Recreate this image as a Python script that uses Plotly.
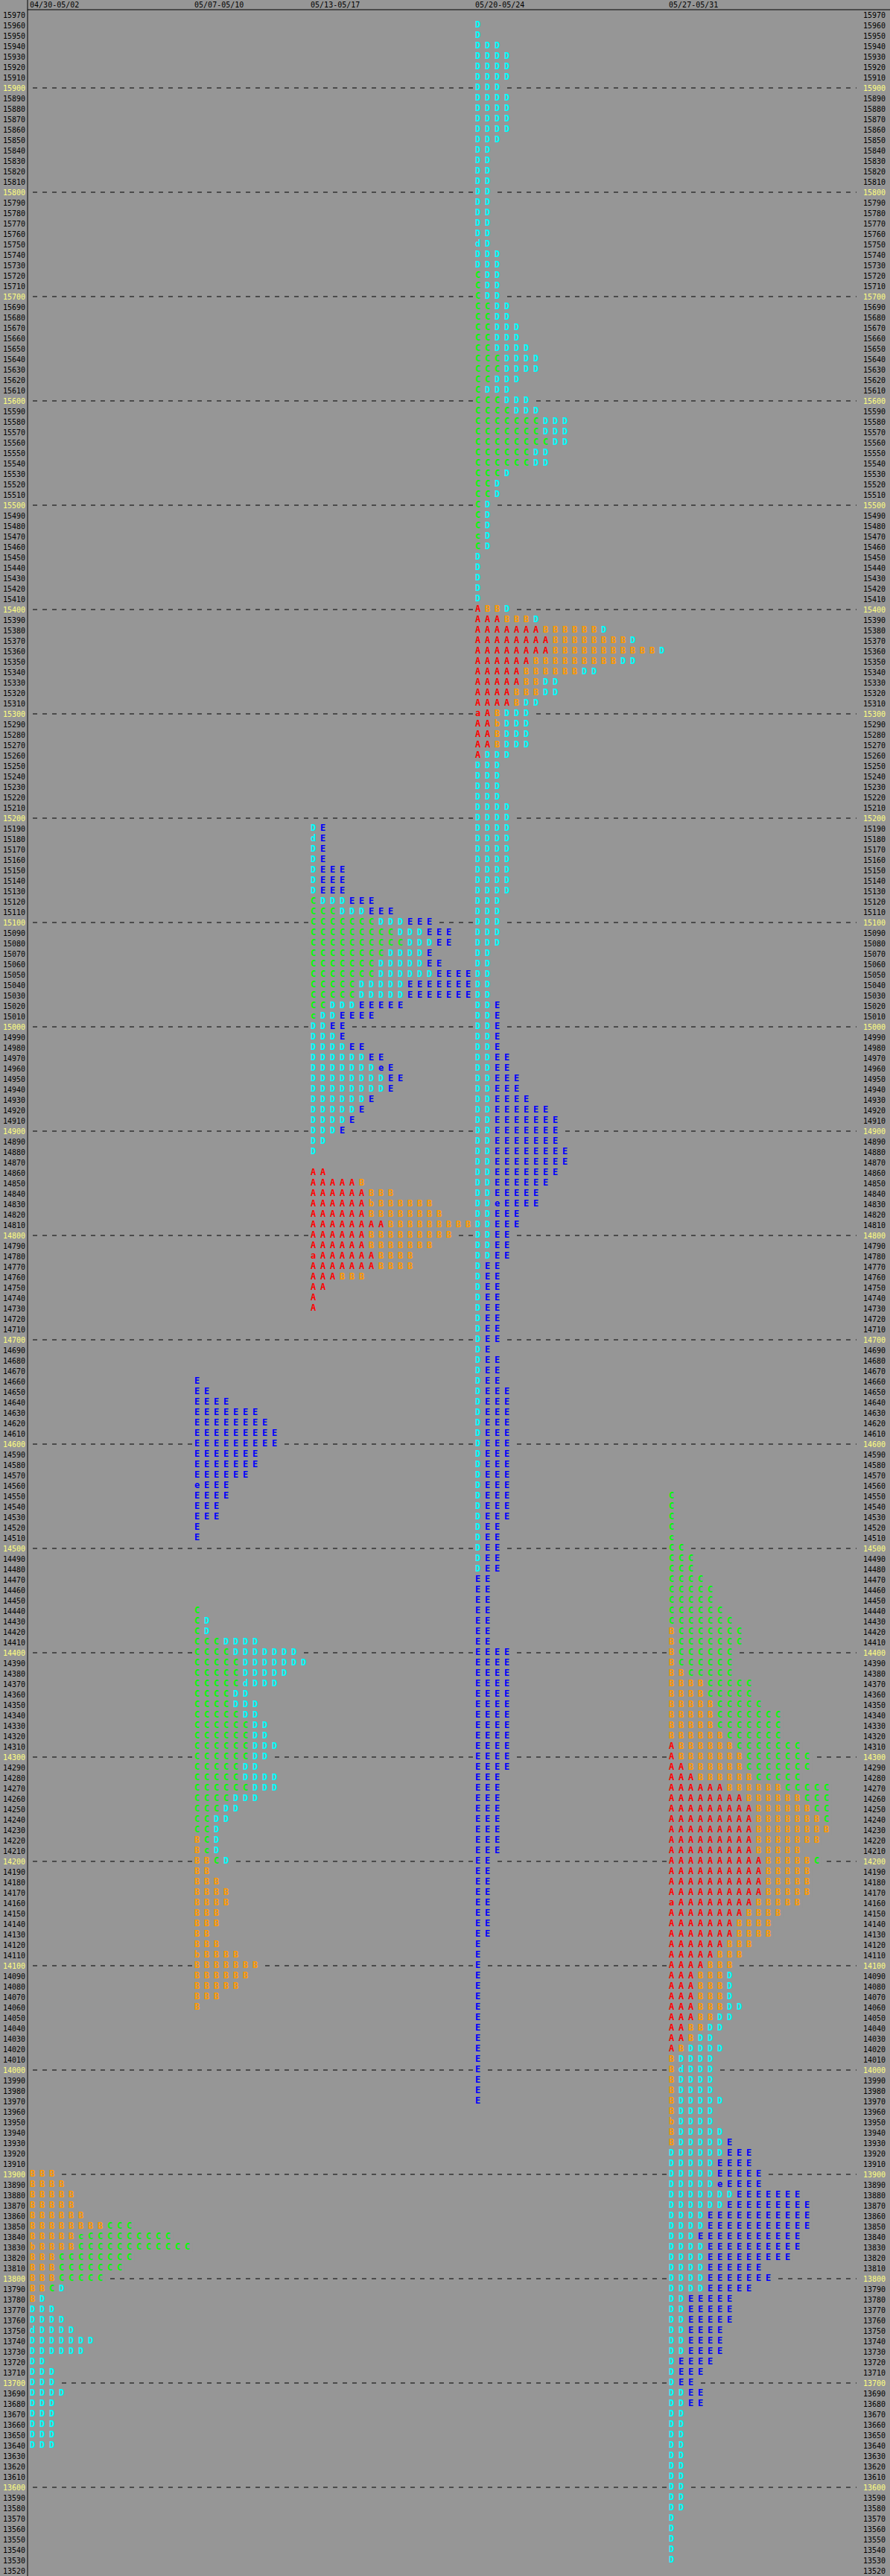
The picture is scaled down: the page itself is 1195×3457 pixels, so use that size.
import plotly.graph_objects as go

# ---------------- data ----------------
WEEKS = ["04/30-05/02", "05/07-05/10", "05/13-05/17", "05/20-05/24", "05/27-05/31"]
TOP_PRICES = [13900, 14660, 15190, 15960, 14550]   # price of the first row of each profile
PRICE_MIN, PRICE_MAX, PRICE_STEP = 13520, 15970, 10

P1_ROWS = [
    "BBB", "BBBB", "BBBBB", "BBBBB", "BBBBBB", "BBBBBBBBCCC", "BBBBBcCCCCCCCCC",
    "bBBBBCCCCCCCCCCCC", "BBBCCCCCCCC", "BBBCCCCCCC", "BBBCCCCC", "BBCD", "BD",
    "DDD", "DDDD", "dDDDD", "DDDDDDD", "DDDDDD", "DD", "DDD", "DDD", "DDDD",
    "DDD", "DDD", "DDD", "DDD", "DDD",
]

P2_ROWS = [
    "E", "EE", "EEEE", "EEEEEEE", "EEEEEEEE", "EEEEEEEEE", "EEEEEEEEE", "EEEEEEE",
    "EEEEEEE", "EEEEEE", "eEEE", "EEEE", "EEE", "EEE", "E", "E",
    "", "", "", "", "", "",
    "C", "CD", "CD", "CCCDDDD", "CCCCDDDDDDD", "CCCCCDDDDDDD", "CCCCCDDDDD",
    "CCCCCdDDD", "CCCCDD", "CCCCDDD", "CCCCCDD", "CCCCCCDD", "CCCCCCDD",
    "CCCCCCDDD", "CCCCCCDD", "CCCCCDD", "CCCCCDDDD", "CCCCCCDDD", "CCCCDDD",
    "CCCDD", "CCDD", "CCD", "BCD", "BcD", "BBCD", "BB", "BBB", "BBBB", "BBBB",
    "BBB", "BBB", "BB", "BBB", "bBBBB", "BBBBBBB", "BBBBBB", "BBBBB", "BBB", "B",
]

P3_ROWS = [
    "DE", "dE", "DE", "DE", "DEEE", "DEEE", "DEEE", "CDDDEEE", "CCCDDDEEE",
    "CCCCCCCDDDEEE", "CCCCCCCCCDDDEEE", "CCCCCCCCCCDDDEE", "CCCCCCCCDDDDE",
    "CCCCCCCDDDDDEE", "CCCCCCCDDDDDDEEEE", "CCCCCDDDDDEEEEEEE", "CCCCCDDDDDEEEEEEE",
    "CCDDDEEEEE", "cDDEEEE", "DDEE", "DDDE", "DDDDEE", "DDDDDDEE", "DDDDDDDeE",
    "DDDDDDDDEE", "DDDDDDDDE", "DDDDDDE", "DDDDDE", "DDDDE", "DDDE", "DD", "D", "",
    "AA", "AAAAAB", "AAAAAABBB", "AAAAAAbBBBBBB", "AAAAAABBBBBBBB",
    "AAAAAAAABBBBBBBBB", "AAAAAABBBBBBBBB", "AAAAAABBBBBBB", "aAAAAAABBBB",
    "AAAAAAABBBB", "AAABBB", "AA", "A", "A",
]

P4_ROWS = (
    ["D", "D", "DDD", "DDDD", "DDDD", "DDDD", "DDD", "DDDD", "DDDD", "DDDD", "DDDD",
     "DDD", "DD", "DD", "DD", "DD", "DD", "DD", "DD", "DD", "DD", "dD", "DDD", "DDD",
     "CDD", "CDD", "CDD", "CCDD", "CCDD", "CCDDD", "CCDDD", "CCDDDD", "CCCDDDD",
     "CCCDDDD", "CCDDD", "CDDD", "CCCDDD", "CCCCDDD", "CCCCCCCDDD", "CCCCCCCDDD",
     "CCCCCCCCDD", "CCCCCCDD", "CCCCCCDD", "CCCD", "CCD", "CCD", "CD", "CD", "CD",
     "cD", "CD", "D", "D", "D", "D", "D",
     "ABBD", "AAABBBD", "AAAAAAABBBBBBD", "AAAAAAAABBBBBBBBD",
     "AAAAAAAABBBBBBBBBBBD", "AAAAAABBBBBBBBBDD", "AAAAABBBBBBDD", "AAAAABBDD",
     "AAAABBBDD", "AAAABDD", "aABDDD", "AAbDDD", "AABDDD", "AABDDD", "ADDD",
     "DDD", "DDD", "DDD", "DDD", "DDDD", "DDDD", "DDDD", "DDDD", "DDDD", "DDDD",
     "DDDD", "DDDD", "DDDD", "DDD", "DDD", "DDD", "DDD", "DDD", "DD", "DD", "DD",
     "DD", "DD", "DDE", "DDE", "DDE", "DDE", "DDE", "DDEE", "DDEE", "DDEEE", "DDEEE",
     "DDEEEE", "DDEEEEEE", "DDEEEEEEE", "DDEEEEEEE", "DDEEEEEEE", "DDEEEEEEEE",
     "DDEEEEEEEE", "DDEEEEEEE", "DDEEEEEE", "DDEEEEE", "DDeEEEE", "DDEEE", "DDEEE",
     "DDEE", "DDEE", "DDEE", "DEE", "DEE", "DEE", "DEE", "DEE", "DEE", "DEE", "DEE",
     "DE", "DEE", "DEE", "DEE"]
    + ["DEEE"] * 13
    + ["DEE"] * 5
    + ["EE"] * 7
    + ["EEEE"] * 12
    + ["EEE"] * 8
    + ["EE"] * 8
    + ["E"] * 16
)

P5_ROWS = (
    ["C", "C", "C", "C", "c", "CC", "CCC", "CCC", "CCCC", "CCCCC", "CCCCC", "CCCCCC",
     "CCCCCCC", "BCCCCCCC", "BCCCCCCC", "BCCCCCC", "BCCCCCC", "BBCCCCC", "BBBBCCCCC",
     "BBBBCCCCC", "BBBBBCCCCC", "BBBBBCCCCCCC", "BBBBBCCCCCCC", "BBBBBBCCCCCC",
     "ABBBBBBCCCCCCC", "ABBBBBBBCCCCCCC", "AABBBBBBCCCCCCC", "AAABBBBBBCCCCC",
     "AAAAAABBBBBBCCCCC", "AAAAAAAABBBBBBCCC", "AAAAAAAAABBBBBBCC",
     "AAAAAAAAABBBBBBBC", "AAAAAAAAABBBBBBBB", "AAAAAAAAABBBBBBB", "AAAAAAAAABBBBB",
     "AAAAAAAAAABBBBBC", "AAAAAAAAAABBBBB", "AAAAAAAAAABBBBB", "AAAAAAAAAABBBBB",
     "aAAAAAAAABBBBB", "AAAAAAAABBBB", "AAAAAAABBBB", "AAAAAAABBBB", "AAAAAABBB",
     "AAAAABBB", "AAAABBB", "AAABBBD", "AAABBBD", "AAABBBD", "AAABBBDD", "AAABBDD",
     "AABBDD", "AABDD", "ABDDDD", "BDDDD", "BdDDD", "BDDDD", "BDDDD", "BDDDDD",
     "BDDDD", "bDDDD", "BDDDDD", "BDDDDDE", "DDDDDDEEE", "DDDDDEEEE", "DDDDDEEEEE",
     "DDDDDeEEEE", "DDDDDDDEEEEEEE", "DDDDDDEEEEEEEEE", "DDDDEEEEEEEEEEE",
     "DDDDEEEEEEEEEEE", "DDDEEEEEEEEEEE", "DDDDEEEEEEEEEE", "DDDDEEEEEEEEE",
     "DDDDEEEEEE", "DDDDEEEEEEE", "DDDDEEEEE", "DDEEEEE", "DDEEEEE", "DDEEEEE",
     "DDEEEE", "DDEEEE", "DDEEEE", "DEEEE", "DEEE", "DEE", "DDEE", "DDEE"]
    + ["DD"] * 10
    + ["D"] * 5
)

PROFILES = [P1_ROWS, P2_ROWS, P3_ROWS, P4_ROWS, P5_ROWS]

# ---------------- style / layout constants ----------------
W, H = 1195, 3457
BG = "#969696"
LETTER_COLORS = {"A": "#ff0000", "B": "#ff9a00", "C": "#00ff00", "D": "#00ffff", "E": "#0000ff"}
START_COLS = [0, 17, 29, 46, 66]          # column where each weekly profile starts
COL_PX = 13
PLOT_L, PLOT_R, PLOT_T = 37, 1155, 13
X_MIN = -(43.7 - PLOT_L) / COL_PX
X_MAX = X_MIN + (PLOT_R - PLOT_L) / COL_PX
Y_LO = PRICE_MIN - PRICE_STEP / 2
Y_HI = PRICE_MAX + PRICE_STEP / 2

# ---------------- build letter traces ----------------
pts = {k: ([], [], []) for k in LETTER_COLORS}
for prof, top, c0 in zip(PROFILES, TOP_PRICES, START_COLS):
    for r, row in enumerate(prof):
        price = top - r * PRICE_STEP
        for i, ch in enumerate(row):
            xs, ys, ts = pts[ch.upper()]
            xs.append(c0 + i)
            ys.append(price)
            ts.append(ch)

fig = go.Figure()
for k, (xs, ys, ts) in pts.items():
    fig.add_trace(go.Scatter(
        x=xs, y=ys, text=ts, mode="markers+text",
        marker=dict(symbol="square", size=13, color=BG, line=dict(width=0)),
        textposition="middle center",
        textfont=dict(family="DejaVu Sans Mono", size=12, color=LETTER_COLORS[k], weight="bold"),
        hoverinfo="skip", showlegend=False, cliponaxis=False,
    ))

# invisible trace that activates the right-hand price axis
fig.add_trace(go.Scatter(x=[0], y=[PRICE_MIN], yaxis="y2", mode="markers",
                         marker=dict(opacity=0), hoverinfo="skip", showlegend=False))

tickvals = list(range(PRICE_MIN, PRICE_MAX + 1, PRICE_STEP))
ticktext = [(f'<span style="color:#ffff80">{v}</span>' if v % 100 == 0 else str(v)) for v in tickvals]
tickfont = dict(family="DejaVu Sans Mono", size=10, color="#000000")

# dashed lines at every 100
shapes = []
for v in tickvals:
    if v % 100 == 0:
        shapes.append(dict(type="line", xref="paper", yref="y", x0=0, x1=(1150 - PLOT_L) / (PLOT_R - PLOT_L),
                           y0=v, y1=v, layer="below",
                           line=dict(color="#000000", width=1, dash="0px,7px,6px,0px")))
# top line across the full width and left line reaching into the header
shapes.append(dict(type="line", xref="paper", yref="paper", x0=0, x1=(W - PLOT_L) / (PLOT_R - PLOT_L),
                   y0=1, y1=1, line=dict(color="#000000", width=1)))
shapes.append(dict(type="line", xref="paper", yref="paper", x0=0, x1=0,
                   y0=0, y1=H / (H - PLOT_T), line=dict(color="#000000", width=1)))

fig.update_layout(
    width=W, height=H,
    margin=dict(l=PLOT_L, r=W - PLOT_R, t=PLOT_T, b=0, pad=0),
    paper_bgcolor=BG, plot_bgcolor=BG,
    showlegend=False,
    shapes=shapes,
    xaxis=dict(range=[X_MIN, X_MAX], side="top", showgrid=False, zeroline=False,
               showline=False, tickmode="array", automargin=False,
               tickvals=[c - 0.28 for c in START_COLS], ticktext=WEEKS,
               ticklabelposition="outside right", ticks="", ticklen=0,
               tickfont=tickfont, fixedrange=True),
    yaxis=dict(range=[Y_LO, Y_HI], showgrid=False, zeroline=False, showline=False,
               tickmode="array", tickvals=tickvals, ticktext=ticktext, ticks="", automargin=False,
               ticklen=0, ticklabelstandoff=2, tickfont=tickfont, fixedrange=True),
    yaxis2=dict(range=[Y_LO, Y_HI], overlaying="y", side="right", showgrid=False,
                zeroline=False, showline=False, tickmode="array", tickvals=tickvals, automargin=False,
                ticktext=ticktext, ticks="", ticklen=0, ticklabelstandoff=3,
                tickfont=tickfont, fixedrange=True),
)

# the page itself should have no default body margin, so the chart sits at (0, 0)
PAGE_FIX = "document.body.style.margin='0';document.body.style.overflow='hidden';"
fig.write_html("out.html", config={"displayModeBar": False}, post_script=PAGE_FIX)
